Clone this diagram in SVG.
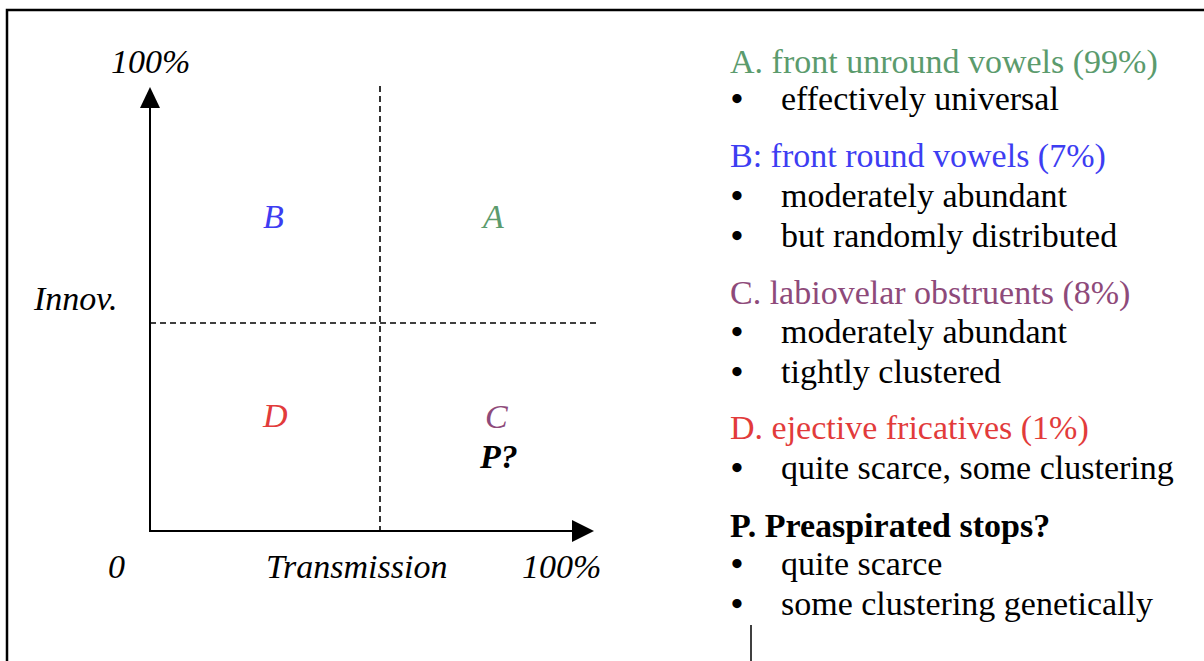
<svg xmlns="http://www.w3.org/2000/svg" width="1204" height="661" viewBox="0 0 1204 661">
  <style>
    text { font-family: "Liberation Serif", "Times New Roman", serif; font-size: 34px; fill: #000; }
    .it { font-style: italic; }
    .bi { font-style: italic; font-weight: bold; }
    .b { font-weight: bold; }
    .dot { font-weight: bold; }
    .axis { stroke: #000; stroke-width: 2; fill: none; }
    .dash { stroke: #000; stroke-width: 1.6; stroke-dasharray: 6 4; fill: none; }
    .frame { stroke: #000; stroke-width: 2.5; fill: none; }
    .ga { fill: #5b9b6d; }
    .gb { fill: #3d3df2; }
    .gc { fill: #8e4a7a; }
    .gd { fill: #e23b3b; }
  </style>

  <rect width="1204" height="661" fill="#fff"/>

  <!-- page frame -->
  <path class="frame" d="M7,661 V10 H1204"/>

  <!-- axes and quadrant dividers -->
  <g id="connectors">
    <line class="axis" x1="150" y1="531" x2="150" y2="106"/>
    <polygon points="150,87 140,108 160,108" fill="#000"/>
    <line class="axis" x1="149" y1="531" x2="574" y2="531"/>
    <polygon points="594,531 572,520 572,542" fill="#000"/>
    <line class="dash" x1="380" y1="86" x2="380" y2="531"/>
    <line class="dash" x1="150" y1="323" x2="597" y2="323"/>
  </g>

  <!-- axis labels -->
  <g id="axis-labels">
    <text class="it" x="111" y="73">100%</text>
    <text class="it" x="34" y="310">Innov.</text>
    <text class="it" x="108" y="578">0</text>
    <text class="it" x="266" y="578">Transmission</text>
    <text class="it" x="522" y="578">100%</text>
  </g>

  <!-- quadrant labels -->
  <g id="quad-B"><text class="it gb" x="263" y="228">B</text></g>
  <g id="quad-A"><text class="it ga" x="483" y="228">A</text></g>
  <g id="quad-D"><text class="it gd" x="263" y="427">D</text></g>
  <g id="quad-C"><text class="it gc" x="485" y="428">C</text></g>
  <g id="quad-P"><text class="bi" x="480" y="468">P?</text></g>

  <!-- legend -->
  <g id="legend-A">
    <text class="ga" x="730" y="73">A. front unround vowels (99%)</text>
    <text class="dot" x="731" y="110">•</text><text x="781" y="110">effectively universal</text>
  </g>
  <g id="legend-B">
    <text class="gb" x="730" y="167">B: front round vowels (7%)</text>
    <text class="dot" x="731" y="207">•</text><text x="781" y="207">moderately abundant</text>
    <text class="dot" x="731" y="247">•</text><text x="781" y="247">but randomly distributed</text>
  </g>
  <g id="legend-C">
    <text class="gc" x="730" y="304">C. labiovelar obstruents (8%)</text>
    <text class="dot" x="731" y="343">•</text><text x="781" y="343">moderately abundant</text>
    <text class="dot" x="731" y="383">•</text><text x="781" y="383">tightly clustered</text>
  </g>
  <g id="legend-D">
    <text class="gd" x="730" y="439">D. ejective fricatives (1%)</text>
    <text class="dot" x="731" y="479">•</text><text x="781" y="479">quite scarce, some clustering</text>
  </g>
  <g id="legend-P">
    <text class="b" x="730" y="537">P. Preaspirated stops?</text>
    <text class="dot" x="731" y="575">•</text><text x="781" y="575">quite scarce</text>
    <text class="dot" x="731" y="615">•</text><text x="781" y="615">some clustering genetically</text>
  </g>

  <!-- text cursor -->
  <line x1="751" y1="625" x2="751" y2="661" stroke="#000" stroke-width="1.5"/>
</svg>
